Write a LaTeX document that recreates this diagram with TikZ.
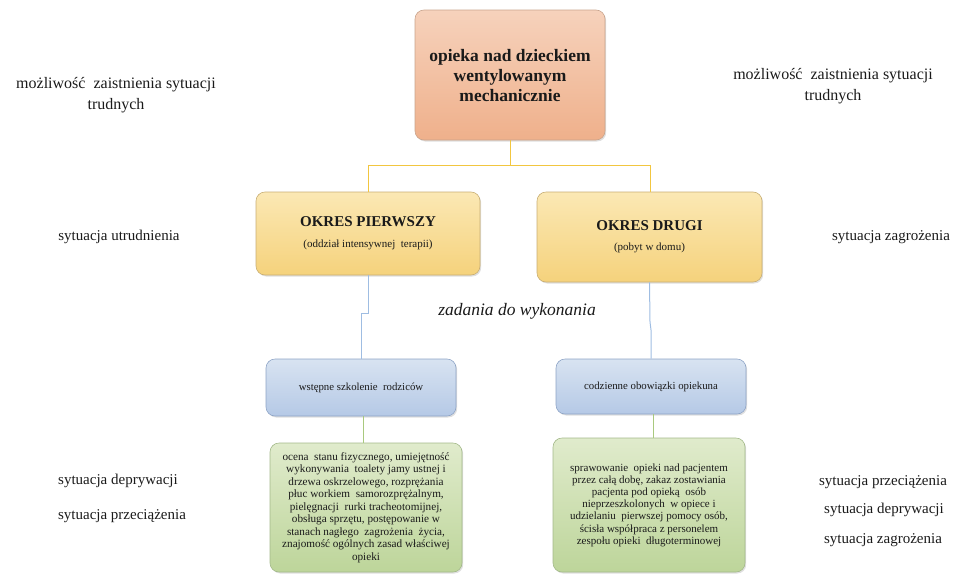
\documentclass[tikz,border=0pt]{standalone}
\usepackage{fontspec}
\setmainfont{Liberation Serif}
\usetikzlibrary{shadows}
\definecolor{orT}{HTML}{F6D2BC}
\definecolor{orB}{HTML}{EFB08B}
\definecolor{orD}{HTML}{C9A48C}
\definecolor{yeT}{HTML}{FBE8B4}
\definecolor{yeB}{HTML}{F5D27C}
\definecolor{yeD}{HTML}{C8AE74}
\definecolor{blT}{HTML}{D8E3F1}
\definecolor{blB}{HTML}{B5C9E6}
\definecolor{blD}{HTML}{8EA4C6}
\definecolor{grT}{HTML}{E0EBCC}
\definecolor{grB}{HTML}{BDD59A}
\definecolor{grD}{HTML}{A3B98A}
\definecolor{lnY}{HTML}{F2C640}
\definecolor{lnB}{HTML}{9FBDE2}
\definecolor{lnG}{HTML}{A9C97E}
\definecolor{txt}{HTML}{1A1A1A}
\tikzset{
  box/.style={rounded corners=9pt, draw, line width=0.6pt, align=center, inner sep=2pt,
    drop shadow={shadow xshift=1.2pt, shadow yshift=-1.5pt, opacity=0.25}, text=txt},
  orbox/.style={box, draw=orD, top color=orT, bottom color=orB},
  yebox/.style={box, draw=yeD, top color=yeT, bottom color=yeB},
  blbox/.style={box, draw=blD, top color=blT, bottom color=blB},
  grbox/.style={box, draw=grD, top color=grT, bottom color=grB},
  side/.style={align=center, text=txt, font=\fontsize{15}{21}\selectfont},
  bigside/.style={align=center, text=txt, font=\fontsize{16}{21}\selectfont},
  ylink/.style={draw=lnY, line width=1pt},
  blink/.style={draw=lnB, line width=1pt},
  glink/.style={draw=lnG, line width=1pt},
}
\begin{document}
\begin{tikzpicture}[x=1pt,y=-1pt]
\useasboundingbox (0,0) rectangle (953,576);

% boxes
\node[orbox, minimum width=190pt, minimum height=130pt, font=\bfseries\fontsize{17.5}{20}\selectfont] (top) at (510,75)
  {\raisebox{0pt}[14pt][0pt]{}opieka nad dzieckiem\\wentylowanym\\mechanicznie};

\node[yebox, minimum width=224pt, minimum height=83pt] (p1) at (368,233.5)
  {{\bfseries\fontsize{15}{18}\selectfont OKRES PIERWSZY}\\[9pt]{\fontsize{11}{12}\selectfont (oddział intensywnej\ \ terapii)}};
\node[yebox, minimum width=225pt, minimum height=90pt] (p2) at (649.5,237)
  {{\bfseries\fontsize{15}{18}\selectfont OKRES DRUGI}\\[8pt]{\fontsize{11}{12}\selectfont (pobyt w domu)}};

\node[blbox, minimum width=190pt, minimum height=57pt, font=\fontsize{10.8}{12}\selectfont] (b1) at (361,387.5)
  {wstępne szkolenie\ \ rodziców};
\node[blbox, minimum width=190pt, minimum height=55pt, font=\fontsize{10.8}{12}\selectfont] (b2) at (651,386.5)
  {codzienne obowiązki opiekuna};

\node[grbox, minimum width=192pt, minimum height=129pt, font=\fontsize{11.2}{12.5}\selectfont] (g1) at (366,507.5)
  {ocena\ \ stanu fizycznego, umiejętność\\wykonywania\ \ toalety jamy ustnej i\\drzewa oskrzelowego, rozprężania\\płuc workiem\ \ samorozprężalnym,\\pielęgnacji\ \ rurki tracheotomijnej,\\obsługa sprzętu, postępowanie w\\stanach nagłego\ \ zagrożenia\ \ życia,\\znajomość ogólnych zasad właściwej\\opieki};
\node[grbox, minimum width=192pt, minimum height=134pt, font=\fontsize{11}{12.2}\selectfont] (g2) at (649,505)
  {sprawowanie\ \ opieki nad pacjentem\\przez całą dobę, zakaz zostawiania\\pacjenta pod opieką\ \ osób\\nieprzeszkolonych\ \ w opiece i\\udzielaniu\ \ pierwszej pomocy osób,\\ścisła współpraca z personelem\\zespołu opieki\ \ długoterminowej};

% connectors
\coordinate (jy) at (510,165);
\draw[ylink] (top.south) -- (jy);
\draw[ylink] (jy) -- (368,165) -- (p1.north);
\draw[ylink] (jy) -- (650,165) -- (650,192);
\draw[blink] (p1.south) -- (368,313) -- (361,313) -- (b1.north);
\draw[blink] (p2.south) -- (650,322) -- (651,330) -- (b2.north);
\draw[glink] (363,416) -- (363,443);
\draw[glink] (653,414) -- (653,438);

% side labels
\node[bigside] (l1) at (116,95) {możliwość\ \ zaistnienia sytuacji\\trudnych};
\node[bigside] (r1) at (833,86) {możliwość\ \ zaistnienia sytuacji\\trudnych};
\node[side] (l2) at (119,237) {sytuacja utrudnienia};
\node[side] (r2) at (891,237) {sytuacja zagrożenia};
\node[side, font=\itshape\fontsize{17.5}{20}\selectfont] (mid) at (517,311) {zadania do wykonania};
\node[side] (l3) at (118,481) {sytuacja deprywacji};
\node[side] (l4) at (122,516) {sytuacja przeciążenia};
\node[side] (r3) at (883,482) {sytuacja przeciążenia};
\node[side] (r4) at (884,510) {sytuacja deprywacji};
\node[side] (r5) at (883,540) {sytuacja zagrożenia};
\end{tikzpicture}
\end{document}
